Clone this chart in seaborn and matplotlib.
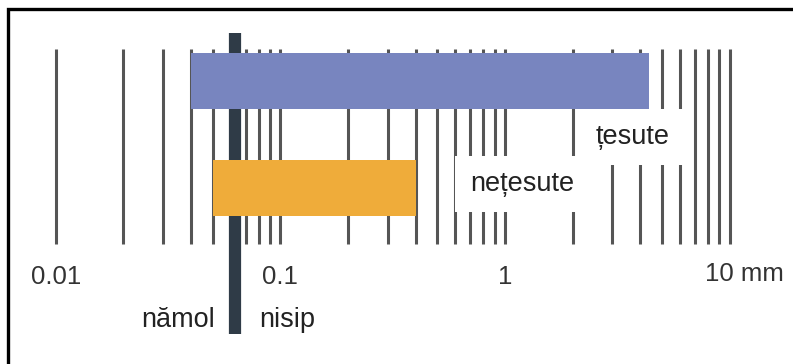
import matplotlib
matplotlib.use("Agg")
import matplotlib.pyplot as plt
from matplotlib.patches import Rectangle
import seaborn as sns

# scale graduations (mm)
scale_marks = [0.01, 0.02, 0.03, 0.04, 0.05, 0.06, 0.07, 0.08, 0.09,
               0.1, 0.2, 0.3, 0.4, 0.5, 0.6, 0.7, 0.8, 0.9,
               1, 2, 3, 4, 5, 6, 7, 8, 9, 10]
tick_values = [0.01, 0.1, 1, 10]
tick_labels = ["0.01", "0.1", "1", "10 mm"]

# fabric types and their pore size ranges (mm)
fabrics = ["țesute", "nețesute"]
range_start = [0.04, 0.05]
range_end = [4.4, 0.4]
fabric_colors = ["#7885bf", "#efac3a"]

# silt / sand boundary
boundary = 0.063
boundary_labels = ["nămol", "nisip"]

sns.set_theme(style="white")
plt.rcParams["font.family"] = ["Liberation Sans", "DejaVu Sans"]

fig = plt.figure(figsize=(7.93, 3.64), dpi=100)
ax = fig.add_axes([0, 0, 1, 1])
ax.set_xscale("log")
ax.set_xlim(0.005645, 19.16)
ax.set_ylim(2.633, -0.753)
ax.axis("off")

# ruler lines
ax.vlines(scale_marks, -0.30, 1.516, color="#555555", lw=2.2, zorder=1)

# silt / sand boundary
ax.vlines(boundary, -0.447, 2.353, color="#2f3b47", lw=8.8, zorder=2)

# fabric ranges
rows = list(range(len(fabrics)))
widths = [e - s for s, e in zip(range_start, range_end)]
ax.barh(rows, widths, left=range_start, height=0.52,
        color=fabric_colors, edgecolor="none", linewidth=0, zorder=3)

box = dict(boxstyle="square,pad=0.55", fc="white", ec="none")
ax.text(3.7, 0.521, fabrics[0], ha="center", va="center", fontsize=19.5,
        color="#222222", bbox=box, zorder=4)
ax.text(0.70, 0.958, fabrics[1], ha="left", va="center", fontsize=19.5,
        color="#222222", bbox=box, zorder=4)

# tick labels
for v, lab in zip(tick_values, tick_labels):
    if lab.endswith("mm"):
        ax.annotate(lab, (v, 1.795), xytext=(-18, 0), textcoords="offset points",
                    ha="left", va="center", fontsize=18.5, color="#333333")
    else:
        ax.text(v, 1.82, lab, ha="center", va="center", fontsize=18.5,
                color="#333333")

# boundary labels
ax.annotate(boundary_labels[0], (boundary, 2.223), xytext=(-15, 0),
            textcoords="offset points", ha="right", va="center",
            fontsize=19.5, color="#222222")
ax.annotate(boundary_labels[1], (boundary, 2.223), xytext=(17, 0),
            textcoords="offset points", ha="left", va="center",
            fontsize=19.5, color="#222222")

# frame
fig.add_artist(Rectangle((8 / 793, -0.2), 1.2, 1.2 - 9 / 364,
                         transform=fig.transFigure, fill=False,
                         ec="black", lw=2.4))

fig.savefig("out.png", dpi=100)
